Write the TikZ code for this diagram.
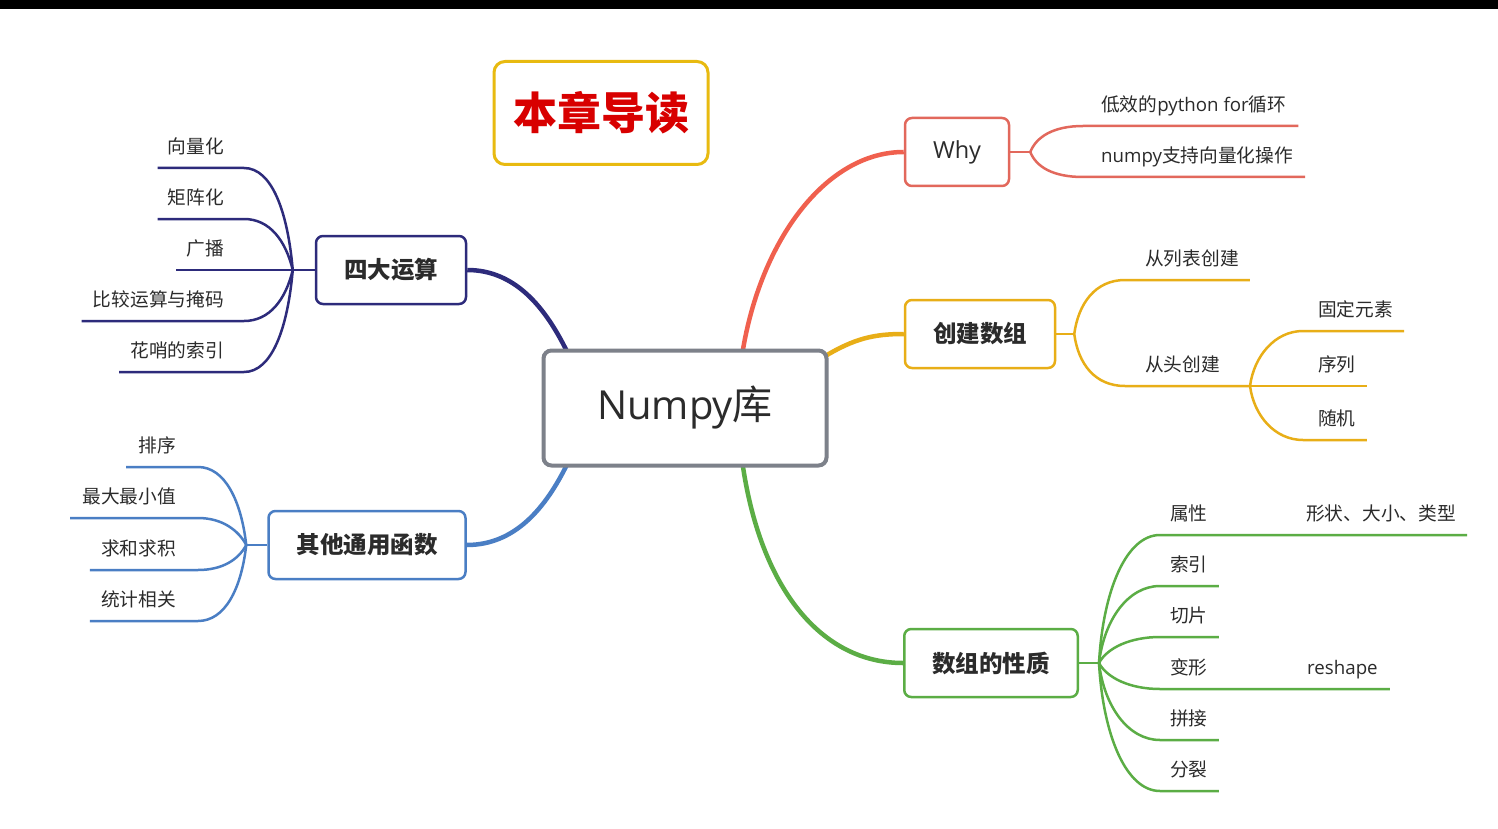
\documentclass[tikz,border=0pt]{standalone}
\usepackage{fontspec}
\setmainfont{Noto Sans CJK SC}
\newfontfamily\latin{Open Sans}
\usetikzlibrary{positioning, calc, backgrounds}
\definecolor{ink}{HTML}{2B2B2B}
\definecolor{navy}{HTML}{2D2B7B}
\definecolor{steel}{HTML}{4A7EC4}
\definecolor{coral}{HTML}{E2685C}
\definecolor{redlimb}{HTML}{F0604E}
\definecolor{gold}{HTML}{E8AE17}
\definecolor{grass}{HTML}{5BAD45}
\definecolor{hubgray}{HTML}{7D818A}
\definecolor{titlegold}{HTML}{E8BA10}
\definecolor{titlered}{HTML}{D80000}
\tikzset{
    x=1pt, y=-1pt, % one unit is one pixel of the layout, y runs downward
    hub/.style={ % the centre box
        draw=hubgray, line width=4pt, rounded corners=8pt, fill=white,
        minimum width=283pt, minimum height=115pt, text=ink,
        font=\fontsize{40}{46}\selectfont
    },
    title/.style={ % chapter tag
        draw=titlegold, line width=3pt, rounded corners=11pt, fill=white,
        minimum width=214pt, minimum height=103pt, text=titlered,
        font=\fontsize{44}{52}\selectfont\bfseries
    },
    branch/.style={ % the five coloured boxes
        line width=2.5pt, rounded corners=7pt, fill=white, text=ink,
        inner xsep=28pt, minimum height=68pt,
        font=\fontsize{23.5}{28}\selectfont\bfseries
    },
    leaf/.style={ % text standing on its own line
        inner xsep=0pt, inner ysep=10pt, text height=15pt, text depth=4pt,
        text=ink, font=\fontsize{18.7}{22}\selectfont
    },
    twig/.style={line width=2.5pt},
    limb/.style={line width=4.5pt}
}
\begin{document}
\begin{tikzpicture}
    \useasboundingbox (0,0) rectangle (1498,829);

    \node[title] (daodu) at (601,113) {本章导读};
    \node[hub] (numpy) at (685,408) {{\latin Numpy}库};

    % main branches
    \node[branch, draw=navy] (sida) at (391,270) {四大运算};
    \node[branch, draw=steel] (qita) at (367,545) {其他通用函数};
    \node[branch, draw=coral, font=\fontsize{23.5}{28}\selectfont\latin] (why) at (957,152) {Why};
    \node[branch, draw=gold] (chuangjian) at (980,334) {创建数组};
    \node[branch, draw=grass] (xingzhi) at (991,663) {数组的性质};

    \coordinate[left=22pt of sida.west] (j1);
    \coordinate[left=21pt of qita.west] (j2);
    \coordinate[right=20pt of why.east] (j3);
    \coordinate[right=18pt of chuangjian.east] (j4);
    \coordinate (j5) at (1250,386);
    \coordinate[right=20pt of xingzhi.east] (j6);

    % leaves on the left
    \node[leaf, anchor=south east] (v1) at (224,168) {向量化};
    \node[leaf, anchor=south east] (v2) at (224,219) {矩阵化};
    \node[leaf, anchor=south east] (v3) at (224,270) {广播};
    \node[leaf, anchor=south east] (v4) at (224,321) {比较运算与掩码};
    \node[leaf, anchor=south east] (v5) at (224,372) {花哨的索引};

    \node[leaf, anchor=south east] (p1) at (176,467) {排序};
    \node[leaf, anchor=south east] (p2) at (176,518) {最大最小值};
    \node[leaf, anchor=south east] (p3) at (176,570) {求和求积};
    \node[leaf, anchor=south east] (p4) at (176,621) {统计相关};

    % leaves on the right
    \node[leaf, anchor=south west] (w1) at (1101,126) {低效的{\latin python for}循环};
    \node[leaf, anchor=south west] (w2) at (1101,177) {{\latin numpy}支持向量化操作};

    \node[leaf, anchor=south west] (c1) at (1145,280) {从列表创建};
    \node[leaf, anchor=south west] (c2) at (1145,386) {从头创建};
    \node[leaf, anchor=south west] (s1) at (1318,331) {固定元素};
    \node[leaf, anchor=south west] (s2) at (1318,386) {序列};
    \node[leaf, anchor=south west] (s3) at (1318,440) {随机};

    \node[leaf, anchor=south west] (a1) at (1170,535) {属性};
    \node[leaf, anchor=south west] (a2) at (1170,586) {索引};
    \node[leaf, anchor=south west] (a3) at (1170,637) {切片};
    \node[leaf, anchor=south west] (a4) at (1170,689) {变形};
    \node[leaf, anchor=south west] (a5) at (1170,740) {拼接};
    \node[leaf, anchor=south west] (a6) at (1170,791) {分裂};
    \node[leaf, anchor=south west] (shape) at (1306,535) {形状、大小、类型};
    \node[leaf, anchor=south west, font=\fontsize{18.7}{22}\selectfont\latin] (reshape) at (1307,689) {reshape};

    \begin{pgfonlayer}{background}
        \fill[white] (0,0) rectangle (1498,829);
        \fill[black] (0,0) rectangle (1498,9);

        % from the centre to the branches
        \draw[limb, navy] (sida.east) .. controls +(48,0) and +(-22,-45) .. ($(numpy.north west)+(26,4)$);
        \draw[limb, steel] (qita.east) .. controls +(48,0) and +(-22,45) .. ($(numpy.south west)+(26,-4)$);
        \draw[limb, redlimb] ($(numpy.north west)+(201,4)$) .. controls +(18,-112) and +(-78,0) .. (why.west);
        \draw[limb, gold] ($(numpy.north east)+(-4,8)$) .. controls +(30,-18) and +(-30,0) .. (chuangjian.west);
        \draw[limb, grass] ($(numpy.south west)+(201,-4)$) .. controls +(18,125) and +(-82,0) .. (xingzhi.west);

        % 四大运算
        \draw[twig, navy] (sida.west) -- (j1);
        \draw[twig, navy] (j1) .. controls +(-5,-58) and +(28,0) .. ([xshift=20pt]v1.south east) -- ([xshift=-10pt]v1.south west);
        \draw[twig, navy] (j1) .. controls +(-7,-29) and +(26,0) .. ([xshift=20pt]v2.south east) -- ([xshift=-10pt]v2.south west);
        \draw[twig, navy] (j1) -- ([xshift=-10pt]v3.south west);
        \draw[twig, navy] (j1) .. controls +(-7,29) and +(26,0) .. ([xshift=20pt]v4.south east) -- ([xshift=-11pt]v4.south west);
        \draw[twig, navy] (j1) .. controls +(-5,58) and +(28,0) .. ([xshift=20pt]v5.south east) -- ([xshift=-11pt]v5.south west);

        % 其他通用函数
        \draw[twig, steel] (qita.west) -- (j2);
        \draw[twig, steel] (j2) .. controls +(-5,-44) and +(27,0) .. ([xshift=22pt]p1.south east) -- ([xshift=-12pt]p1.south west);
        \draw[twig, steel] (j2) .. controls +(-8,-15) and +(24,0) .. ([xshift=22pt]p2.south east) -- ([xshift=-12pt]p2.south west);
        \draw[twig, steel] (j2) .. controls +(-8,15) and +(24,0) .. ([xshift=22pt]p3.south east) -- ([xshift=-11pt]p3.south west);
        \draw[twig, steel] (j2) .. controls +(-5,44) and +(27,0) .. ([xshift=22pt]p4.south east) -- ([xshift=-11pt]p4.south west);

        % Why
        \draw[twig, coral] (why.east) -- (j3);
        \draw[twig, coral] (j3) .. controls +(6,-15) and +(-30,0) .. ([xshift=-18pt]w1.south west) -- ([xshift=12pt]w1.south east);
        \draw[twig, coral] (j3) .. controls +(6,15) and +(-30,0) .. ([xshift=-18pt]w2.south west) -- ([xshift=12pt]w2.south east);

        % 创建数组
        \draw[twig, gold] (chuangjian.east) -- (j4);
        \draw[twig, gold] (j4) .. controls +(4,-30) and +(-30,0) .. ([xshift=-20pt]c1.south west) -- ([xshift=11pt]c1.south east);
        \draw[twig, gold] (j4) .. controls +(4,30) and +(-30,0) .. ([xshift=-20pt]c2.south west) -- (j5);
        \draw[twig, gold] (j5) .. controls +(4,-30) and +(-28,0) .. ([xshift=-15pt]s1.south west) -- ([xshift=11pt]s1.south east);
        \draw[twig, gold] (j5) -- ([xshift=11pt]s2.south east);
        \draw[twig, gold] (j5) .. controls +(4,30) and +(-28,0) .. ([xshift=-15pt]s3.south west) -- ([xshift=11pt]s3.south east);

        % 数组的性质
        \draw[twig, grass] (xingzhi.east) -- (j6);
        \draw[twig, grass] (j6) .. controls +(4,-72) and +(-34,0) .. ([xshift=-10pt]a1.south west) -- ([xshift=11pt]a1.south east) -- ([xshift=11pt]shape.south east);
        \draw[twig, grass] (j6) .. controls +(5,-43) and +(-32,0) .. ([xshift=-10pt]a2.south west) -- ([xshift=11pt]a2.south east);
        \draw[twig, grass] (j6) .. controls +(8,-15) and +(-30,0) .. ([xshift=-10pt]a3.south west) -- ([xshift=11pt]a3.south east);
        \draw[twig, grass] (j6) .. controls +(8,15) and +(-30,0) .. ([xshift=-10pt]a4.south west) -- ([xshift=11pt]a4.south east) -- ([xshift=12pt]reshape.south east);
        \draw[twig, grass] (j6) .. controls +(5,43) and +(-32,0) .. ([xshift=-10pt]a5.south west) -- ([xshift=11pt]a5.south east);
        \draw[twig, grass] (j6) .. controls +(4,72) and +(-34,0) .. ([xshift=-10pt]a6.south west) -- ([xshift=11pt]a6.south east);
    \end{pgfonlayer}
\end{tikzpicture}
\end{document}
